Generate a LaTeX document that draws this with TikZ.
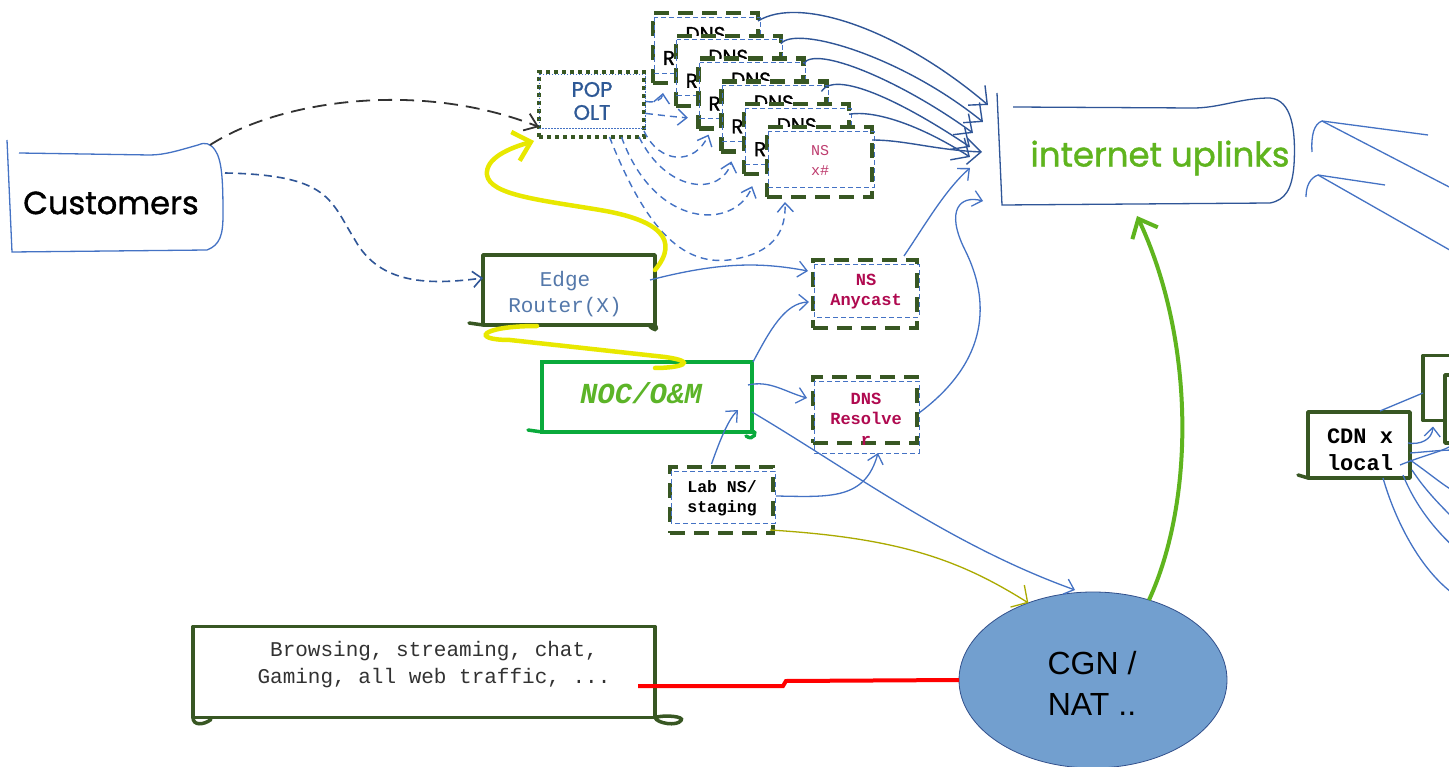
\documentclass[tikz,border=0pt]{standalone}
\usepackage{fontspec}
\setmainfont{Liberation Sans}
\setmonofont{Liberation Mono}
\newfontfamily\hand{Poppins}[FakeBold=1.2]
\usetikzlibrary{arrows.meta,calc,shapes.geometric}

\definecolor{dkgreen}{RGB}{56,87,35}
\definecolor{lblue}{RGB}{68,114,196}
\definecolor{navy}{RGB}{47,85,151}
\definecolor{poptxt}{RGB}{46,89,150}
\definecolor{edgetxt}{RGB}{84,120,170}
\definecolor{nocgreen}{RGB}{10,170,60}
\definecolor{limetxt}{RGB}{92,180,40}
\definecolor{crimsontxt}{RGB}{176,10,80}
\definecolor{rosetxt}{RGB}{190,60,110}
\definecolor{hiyellow}{RGB}{232,232,0}
\definecolor{oliveline}{RGB}{170,170,0}
\definecolor{cgnfill}{RGB}{114,159,207}
\definecolor{cgnedge}{RGB}{50,80,140}
\definecolor{uplinkgreen}{RGB}{95,180,30}
\definecolor{darkline}{RGB}{50,50,50}

\tikzset{
  every node/.style={inner sep=0pt,outer sep=0pt,align=center},
  solidbox/.style={draw=dkgreen,line width=3.5pt,fill=white,line join=round},
  dashbox/.style={draw=dkgreen,line width=4.5pt,dash pattern=on 15pt off 9pt,fill=white},
  dotbox/.style={draw=dkgreen,line width=4.5pt,dash pattern=on 4pt off 4pt,fill=white},
  innerdash/.style={draw=lblue,line width=0.8pt,dash pattern=on 5pt off 3pt},
  innerdot/.style={draw=lblue,line width=0.8pt,dash pattern=on 1.5pt off 1.5pt},
  tail/.style={draw=dkgreen,line width=3.5pt,line cap=round},
  barb/.style={-{Straight Barb[length=9pt,width=16pt]}},
  bigbarb/.style={-{Straight Barb[length=14pt,width=26pt]}},
  link/.style={draw=lblue,line width=1.3pt,barb},
  plainlink/.style={draw=lblue,line width=1.3pt},
  uplink/.style={draw=navy,line width=1.4pt,bigbarb},
  dashlink/.style={draw=lblue,line width=1.4pt,dash pattern=on 7pt off 5pt,barb},
  hi/.style={draw=hiyellow,line width=4.5pt,line cap=round},
  handtxt/.style={font=\hand\fontsize{#1}{#1}\selectfont},
  monotxt/.style={font=\ttfamily\fontsize{#1}{20pt}\selectfont},
}

% dashed blue frame drawn inside a sketched box
\newcommand\insetrect[2]{\draw[innerdash] ($(#1.north west)+(1,4)$) rectangle ($(#1.south east)+(2,#2)$);}

\begin{document}
\begin{tikzpicture}[x=1pt,y=-1pt]
\useasboundingbox (0,0) rectangle (1449,767);
\clip (0,0) rectangle (1449,767);
\fill[white] (0,0) rectangle (1449,767);

% ---------- Customers ----------
\node[minimum width=212pt,minimum height=100pt] (cust) at (116,201) {};
\draw[lblue,line width=1.3pt] (7,140) -- (12,252) -- (207,250)
  .. controls (220,245) and (223,235) .. (223,215)
  .. controls (223,180) and (222,160) .. (215,150)
  .. controls (210,143) and (205,142) .. (198,145)
  .. controls (180,150) and (165,155) .. (150,155) -- (19,153);
\node[handtxt=32] (custt) at (111,203) {Customers};

% ---------- internet uplinks ----------
\node[minimum width=296pt,minimum height=108pt] (inet) at (1148,152) {};
\draw[navy,line width=1.3pt] (997,93) -- (1002,205) -- (1270,203)
  .. controls (1285,200) and (1292,190) .. (1294,165)
  .. controls (1296,130) and (1292,100) .. (1270,98)
  .. controls (1240,98) and (1220,108) .. (1193,108) -- (1013,107);
\node[handtxt=34,text=uplinkgreen] (inett) at (1160,158) {internet uplinks};

% ---------- POP OLT ----------
\node[dotbox,minimum width=105pt,minimum height=65pt] (pop) at (591.5,104.5) {};
\draw[innerdot] (539,74) rectangle (645,128);
\node[handtxt=21,text=poptxt] (popt) at (592,101) {POP\\[2pt]OLT};

% ---------- stacked DNS boxes ----------
\foreach \i in {0,...,4}{
  \node[dashbox,minimum width=105pt,minimum height=70pt] (dns\i) at ({705.5+22.8*\i},{48+22.8*\i}) {};
  \node[handtxt=20] (dnst\i) at ($(dns\i.north)+(0,21)$) {DNS};
  \node[handtxt=20] (dnsr\i) at ($(dns\i.west)+(16,10)$) {R};
  \insetrect{dns\i}{-10}
}
\node[dashbox,minimum width=105pt,minimum height=70pt] (dns5) at (819.5,162) {};
\insetrect{dns5}{-10}
\node[monotxt=15,text=rosetxt] (nsx) at (820,160) {NS\\x\#};

% ---------- Edge router ----------
\node[solidbox,minimum width=172pt,minimum height=70pt] (edge) at (569,290) {};
\draw[tail] (edge.south west) -- +(-14,-2);
\draw[tail] (edge.south east) .. controls +(4,6) and +(4,6) .. +(-6,0);
\node[font=\ttfamily\fontsize{21}{26}\selectfont,text=edgetxt] (edget) at (565,294) {Edge\\Router(X)};

% ---------- NOC ----------
\node[draw=nocgreen,line width=3.5pt,fill=white,minimum width=210pt,minimum height=70pt] (noc) at (647,397) {};
\draw[nocgreen,line width=3.5pt,line cap=round] (noc.south west) -- +(-14,-2);
\draw[nocgreen,line width=3.5pt,line cap=round] (noc.south east) .. controls +(6,-2) and +(8,6) .. +(-6,4);
\node[font=\ttfamily\bfseries\itshape\fontsize{29}{30}\selectfont,text=limetxt] (noct) at (641,393) {NOC/O\&M};

% ---------- NS Anycast / DNS Resolver / Lab ----------
\node[dashbox,minimum width=104pt,minimum height=68pt] (any) at (865,294) {};
\insetrect{any}{-11}
\node[font=\ttfamily\bfseries\fontsize{17}{20}\selectfont,text=crimsontxt] (anyt) at (866,292) {NS\\Anycast};

\node[dashbox,minimum width=104pt,minimum height=66pt] (res) at (865,410) {};
\insetrect{res}{10}
\node[font=\ttfamily\bfseries\fontsize{17}{20.5}\selectfont,text=crimsontxt] (rest) at (866,419) {DNS\\Resolve\\r};

\node[dashbox,minimum width=103pt,minimum height=66pt] (lab) at (721.5,500) {};
\insetrect{lab}{-10}
\node[font=\ttfamily\bfseries\fontsize{16.5}{20}\selectfont] (labt) at (722,498) {Lab NS/\\staging};

% ---------- traffic box ----------
\node[solidbox,minimum width=462pt,minimum height=91pt] (brow) at (424,672) {};
\draw[tail] (brow.south west) .. controls +(0,8) and +(-8,6) .. +(18,2);
\draw[tail] (brow.south east) .. controls +(2,6) and +(-4,6) .. +(26,3) .. controls +(4,-4) and +(10,-3) .. (brow.south east);
\node[font=\ttfamily\fontsize{21}{27}\selectfont,text=darkline] (browt) at (434,665) {Browsing, streaming, chat,\\Gaming, all web traffic, ...};

% ---------- CGN ----------
\node[ellipse,draw=cgnedge,line width=0.8pt,fill=cgnfill,minimum width=268pt,minimum height=176pt] (cgn) at (1093,680) {};
\node[font=\fontsize{32}{41}\selectfont] (cgnt) at (1092,683) {CGN /\\NAT ..};

% ---------- CDN and boxes at the right edge ----------
\node[solidbox,minimum width=102pt,minimum height=66pt] (cdn) at (1359,445) {};
\draw[tail] (cdn.south west) -- +(-10,-3);
\node[font=\ttfamily\bfseries\fontsize{22}{27}\selectfont] (cdnt) at (1360,450) {CDN x\\local};
\node[solidbox,minimum width=100pt,minimum height=65pt] (ra) at (1473,388) {};
\node[solidbox,minimum width=100pt,minimum height=68pt] (rb) at (1495,409) {};

% ---------- connectors ----------
% customers
\draw[darkline,line width=1.8pt,dash pattern=on 14pt off 8pt,-{Straight Barb[length=12pt,width=18pt]}]
  ($(cust.north east)+(-12,-6)$) .. controls (280,100) and (420,80) .. ($(pop.south west)+(0,-10)$);
\draw[navy,line width=1.6pt,dash pattern=on 8pt off 5pt,barb]
  ($(cust.east)+(3,-28)$) .. controls (330,175) and (330,200) .. (355,240)
  .. controls (380,285) and (430,285) .. ($(edge.west)+(0,-12)$);

% POP OLT to the DNS boxes
\draw[dashlink] ($(pop.east)+(2,-3)$) .. controls (655,103) and (662,100) .. ($(dns0.south west)+(10,10)$);
\draw[dashlink] ($(pop.east)+(2,9)$) .. controls (660,115) and (675,117) .. ($(dns1.south west)+(12,12)$);
\draw[dashlink] ($(pop.south east)+(0,-6)$) .. controls (660,165) and (695,165) .. ($(dns2.south west)+(10,6)$);
\draw[dashlink] ($(pop.south east)+(-5,0)$) .. controls (668,195) and (722,195) .. ($(dns3.south west)+(10,10)$);
\draw[dashlink] ($(pop.south)+(30,0)$) .. controls (655,230) and (735,230) .. ($(dns4.south west)+(8,12)$);
\draw[dashlink] ($(pop.south)+(18,0)$) .. controls (650,240) and (690,270) .. (740,258)
  .. controls (775,250) and (786,230) .. ($(dns5.south west)+(18,5)$);

% DNS boxes to internet uplinks
\draw[uplink] ($(dns0.north east)+(0,8)$) .. controls (800,-5) and (900,30) .. ($(inet.west)+(-12,-47)$);
\draw[uplink] ($(dns1.north east)+(0,8)$) .. controls (795,25) and (900,55) .. ($(inet.west)+(-17,-30)$);
\draw[uplink] ($(dns2.north east)+(0,5)$) .. controls (815,45) and (900,80) .. ($(inet.west)+(-27,-19)$);
\draw[uplink] ($(dns3.north east)+(-5,10)$) .. controls (835,70) and (900,100) .. ($(inet.west)+(-30,-5)$);
\draw[uplink] ($(dns4.north east)+(0,10)$) .. controls (875,110) and (920,125) .. ($(inet.west)+(-30,5)$);
\draw[uplink] ($(dns5.north east)+(0,13)$) .. controls (905,140) and (935,150) .. ($(inet.west)+(-18,0)$);

% highlighted paths
\draw[hi,-{Straight Barb[length=16pt,width=30pt]}] ($(edge.north east)+(0,15)$) .. controls (680,240) and (660,220) .. (600,210)
  .. controls (540,200) and (490,195) .. (487,175)
  .. controls (485,158) and (510,148) .. ($(pop.south west)+(-5,4)$);
\draw[hi] ($(edge.south west)+(54,1)$) .. controls (480,326) and (470,340) .. (510,340)
  -- (665,357) .. controls (700,362) and (680,368) .. ($(noc.north)+(8,6)$);

% blue links
\draw[link] ($(edge.east)+(-5,-10)$) .. controls (720,262) and (760,262) .. ($(any.west)+(-5,-23)$);
\draw[link] ($(noc.north east)+(1,0)$) .. controls (770,330) and (785,303) .. ($(any.west)+(-4,8)$);
\draw[link] ($(noc.east)+(-4,-12)$) .. controls (770,380) and (785,392) .. ($(res.west)+(-6,-12)$);
\draw[link] ($(lab.north)+(-10,-3)$) .. controls (720,440) and (728,420) .. ($(noc.south east)+(-14,-22)$);
\draw[link] ($(lab.east)+(3,-4)$) .. controls (830,497) and (865,500) .. ($(res.south)+(13,10)$);
\draw[link] ($(noc.south east)+(0,-20)$) .. controls (850,470) and (950,545) .. ($(cgn.north)+(-18,-2)$);
\draw[oliveline,line width=1.3pt,-{Straight Barb[length=12pt,width=26pt]}] ($(lab.south east)+(-3,-3)$) .. controls (900,538) and (960,560) .. (cgn.130);
\draw[link] ($(any.north east)+(-13,-4)$) .. controls (925,225) and (945,190) .. ($(inet.south west)+(-30,-38)$);
\draw[link] ($(res.east)+(2,3)$) .. controls (990,360) and (990,300) .. (965,250)
  .. controls (945,210) and (960,195) .. ($(inet.south west)+(-17,-5)$);

% CGN up to the uplinks
\draw[uplinkgreen,line width=4pt,-{Straight Barb[length=16pt,width=28pt]}] (cgn.55) .. controls (1195,500) and (1195,340) .. ($(inet.south)+(-11,10)$);

% traffic into CGN
\draw[red,line width=4pt] ($(brow.east)+(-17,14)$) -- (783,686) -- (786,681) -- (cgn.west);

% arrows entering the uplinks from the right
\coordinate (off1) at (1455,190);
\coordinate (off2) at (1455,253);
\coordinate (h1) at ($(inet.east)+(26,-31)$);
\coordinate (h2) at ($(inet.east)+(22,23)$);
\draw[plainlink] (off1) -- (h1) .. controls (1314,124) and (1311,135) .. (1312,152);
\draw[plainlink] (h1) -- (1428,135);
\draw[plainlink] (off2) -- (h2) .. controls (1310,178) and (1306,186) .. (1306,197);
\draw[plainlink] (h2) -- (1385,185);

% CDN links
\coordinate (e1) at (1455,450);
\coordinate (e2) at (1455,492);
\coordinate (e3) at (1455,520);
\coordinate (e4) at (1455,548);
\coordinate (e5) at (1455,595);
\draw[plainlink] ($(cdn.north)+(21,-1)$) -- ($(ra.west)+(0,5)$);
\draw[link] ($(cdn.east)+(-2,-2)$) .. controls (1420,445) and (1432,440) .. ($(ra.south west)+(10,6)$);
\draw[plainlink] ($(cdn.east)+(0,8)$) .. controls (1425,452) and (1440,450) .. (e1);
\draw[plainlink] ($(cdn.east)+(-10,20)$) .. controls (1425,455) and (1440,452) .. ($(rb.west)+(4,38)$);
\draw[plainlink] ($(cdn.east)+(0,15)$) .. controls (1425,470) and (1440,483) .. (e2);
\draw[plainlink] ($(cdn.south east)+(2,-8)$) .. controls (1425,490) and (1440,505) .. (e3);
\draw[plainlink] ($(cdn.south east)+(-7,-3)$) .. controls (1415,505) and (1435,530) .. (e4);
\draw[plainlink] ($(cdn.south)+(24,0)$) .. controls (1395,520) and (1420,570) .. (e5);
\end{tikzpicture}
\end{document}
